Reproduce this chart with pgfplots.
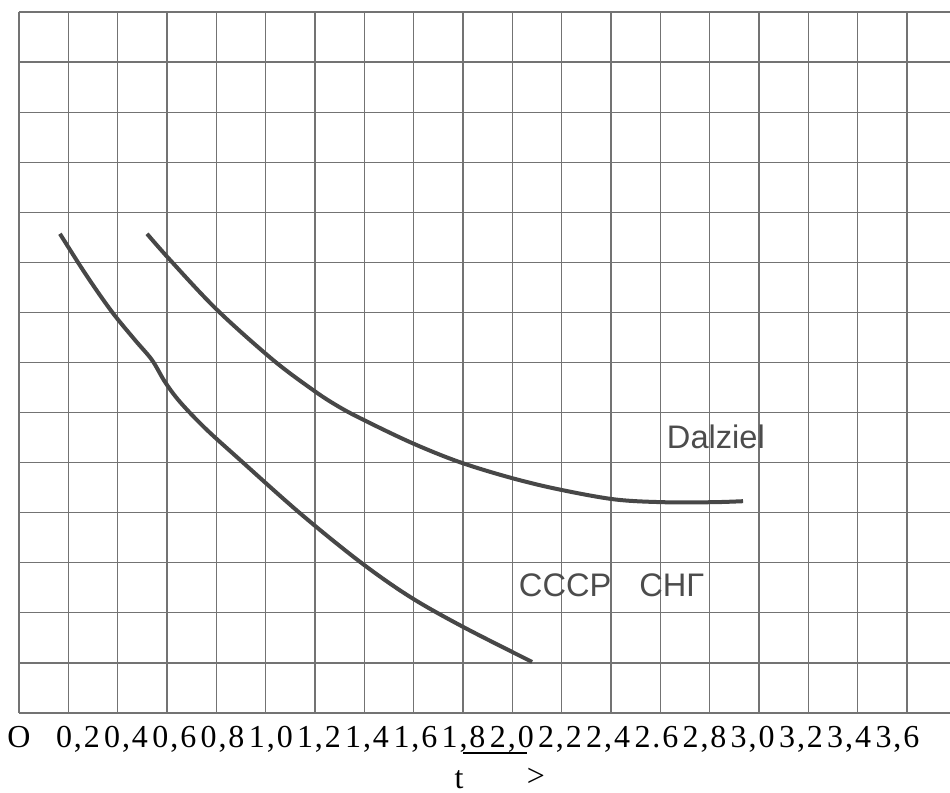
\documentclass[border=0pt]{standalone}
\usepackage{fontspec}
\setmainfont{Liberation Serif}
\newfontfamily\sansf{Liberation Sans}
\newfontfamily\lblfont[LetterSpace=6]{Liberation Serif}
\usepackage{pgfplots}
\pgfplotsset{compat=1.18}
\definecolor{gridc}{gray}{0.45}
\definecolor{curvec}{gray}{0.28}
\definecolor{textc}{gray}{0.30}
\begin{document}
\begin{tikzpicture}
\path[use as bounding box] (0,0) rectangle (475pt,396.5pt);
\begin{axis}[
  at={(9.5pt,40pt)}, anchor=south west,
  scale only axis, width=465.5pt, height=350.5pt,
  xmin=0, xmax=3.774, ymin=0, ymax=14,
  axis line style={draw=none},
  xtick={0,0.239,0.434,0.630,0.825,1.021,1.216,1.411,1.607,1.802,1.998,2.193,2.388,2.584,2.779,2.974,3.170,3.365,3.561},
  xticklabels={O,{0,2},{0,4},{0,6},{0,8},{1,0},{1,2},{1,4},{1,6},{1,8},{2,0},{2,2},{2,4},{2.6},{2,8},{3,0},{3,2},{3,4},{3,6}},
  minor xtick={0,0.2,0.4,0.6,0.8,1.0,1.2,1.4,1.6,1.8,2.0,2.2,2.4,2.6,2.8,3.0,3.2,3.4,3.6},
  ytick={0,1,2,3,4,5,6,7,8,9,10,11,12,13,14}, yticklabels={},
  xmajorgrids=false, xminorgrids=true, ymajorgrids=true,
  grid style={gridc, line width=0.6pt},
  minor grid style={gridc, line width=0.6pt},
  major tick length=0pt, minor tick length=0pt,
  xticklabel style={font=\lblfont\fontsize{16}{19}\selectfont, anchor=base, yshift=-17.5pt},
]
% СССР / СНГ curve
\addplot[curvec, line width=2pt, smooth, tension=0.55] coordinates {
 (0.166,9.57) (0.272,8.75) (0.377,8.01) (0.470,7.45) (0.539,7.05) (0.592,6.61)
 (0.653,6.21) (0.754,5.69) (0.888,5.09) (1.139,3.99) (1.382,3.02) (1.585,2.32)
 (1.800,1.72) (2.080,1.02)
};
% Dalziel curve
\addplot[curvec, line width=2pt, smooth, tension=0.55] coordinates {
 (0.519,9.57) (0.612,9.05) (0.803,8.05) (1.030,7.05) (1.192,6.45) (1.285,6.15)
 (1.382,5.89) (1.585,5.41) (1.775,5.03) (1.970,4.73) (2.165,4.49) (2.408,4.27)
 (2.610,4.21) (2.813,4.21) (2.935,4.23)
};
\node[font=\sansf\fontsize{16.3}{19}\selectfont, text=textc] at (axis cs:2.825,5.51) {Dalziel};
\node[font=\sansf\fontsize{16.3}{19}\selectfont, text=textc] at (axis cs:2.402,2.556) {СССР\hspace{14pt}СНГ};
\end{axis}
\draw[line width=1pt, black] (231.5pt,20pt) -- (263.5pt,20pt);
\node[font=\fontsize{16}{19}\selectfont, anchor=base, inner sep=0pt] at (229.5pt,2.2pt) {t};
\node[font=\fontsize{16}{19}\selectfont, inner sep=0pt] at (268pt,8pt) {>};
\end{tikzpicture}
\end{document}
